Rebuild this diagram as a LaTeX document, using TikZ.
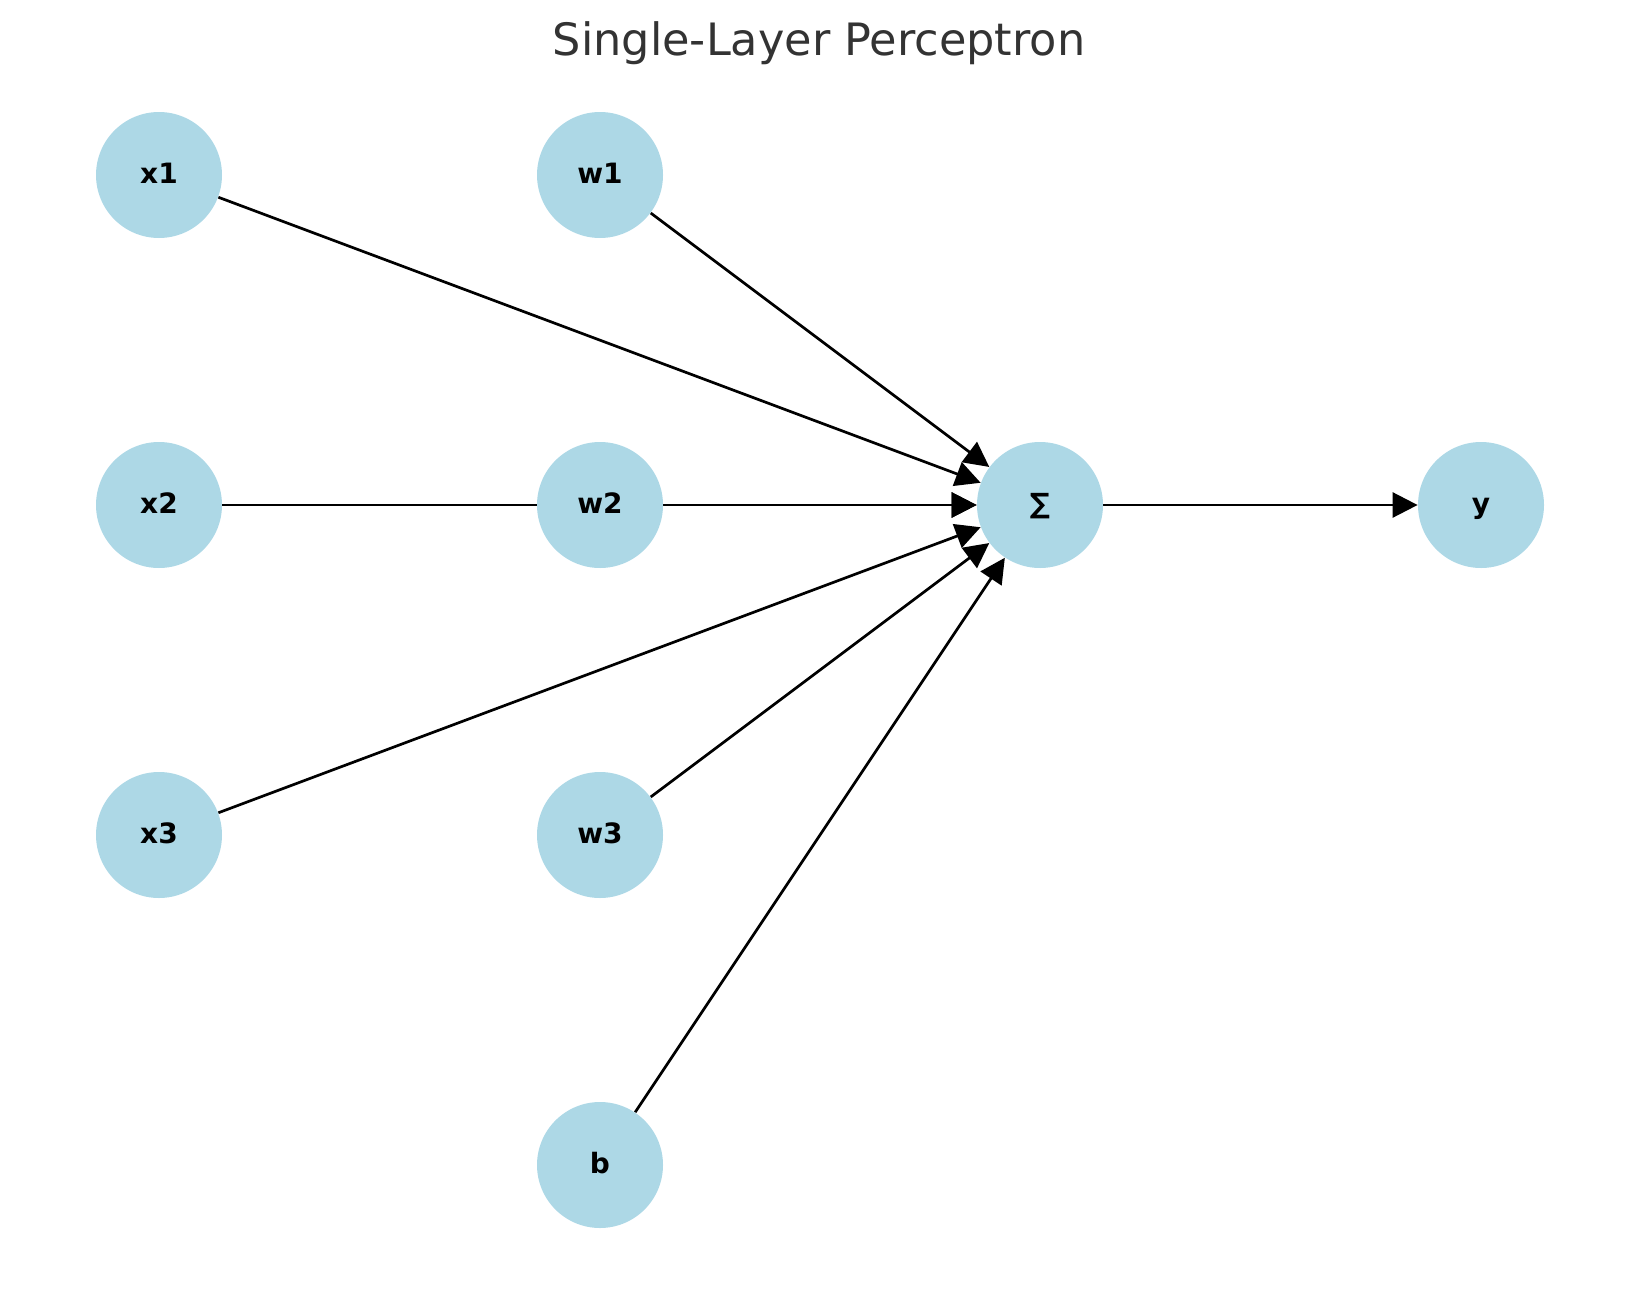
\documentclass[tikz,border=0pt]{standalone}
\usepackage{fontspec}
\setmainfont{DejaVu Sans}
\usetikzlibrary{arrows.meta,backgrounds}
\definecolor{nodeblue}{HTML}{ADD8E6}
\definecolor{titlegray}{HTML}{333333}

\begin{document}
\begin{tikzpicture}[x=0.5pt,y=-0.5pt,
    neuron/.style={circle,fill=nodeblue,minimum size=63pt,inner sep=0pt,
      text height=8.4pt,text depth=0pt,
      font=\fontsize{14}{17}\selectfont\bfseries},
    link/.style={line width=1.35pt,-{Triangle[length=12.5pt,width=12.5pt]}}]%
    \useasboundingbox (0,0) rectangle (1639,1290);%
    \node[font=\fontsize{22.3}{27}\selectfont,text=titlegray,anchor=base] (title) at (819,55) {Single-Layer Perceptron};%
    \node[neuron] (x1) at (159,175) {x1};%
    \node[neuron] (x2) at (159,505) {x2};%
    \node[neuron] (x3) at (159,835) {x3};%
    \node[neuron] (w1) at (600,175) {w1};%
    \node[neuron] (w2) at (600,505) {w2};%
    \node[neuron] (w3) at (600,835) {w3};%
    \node[neuron] (b) at (600,1165) {b};%
    \node[neuron] (sum) at (1040,505) {∑};%
    \node[neuron] (y) at (1481,505) {y};%
    \begin{scope}[on background layer]%
      \foreach \src in {x1,x2,x3,w1,w2,w3,b}
        \draw[link] (\src) -- (sum);%
      \draw[link] (sum) -- (y);%
    \end{scope}%
  \end{tikzpicture}
\end{document}
